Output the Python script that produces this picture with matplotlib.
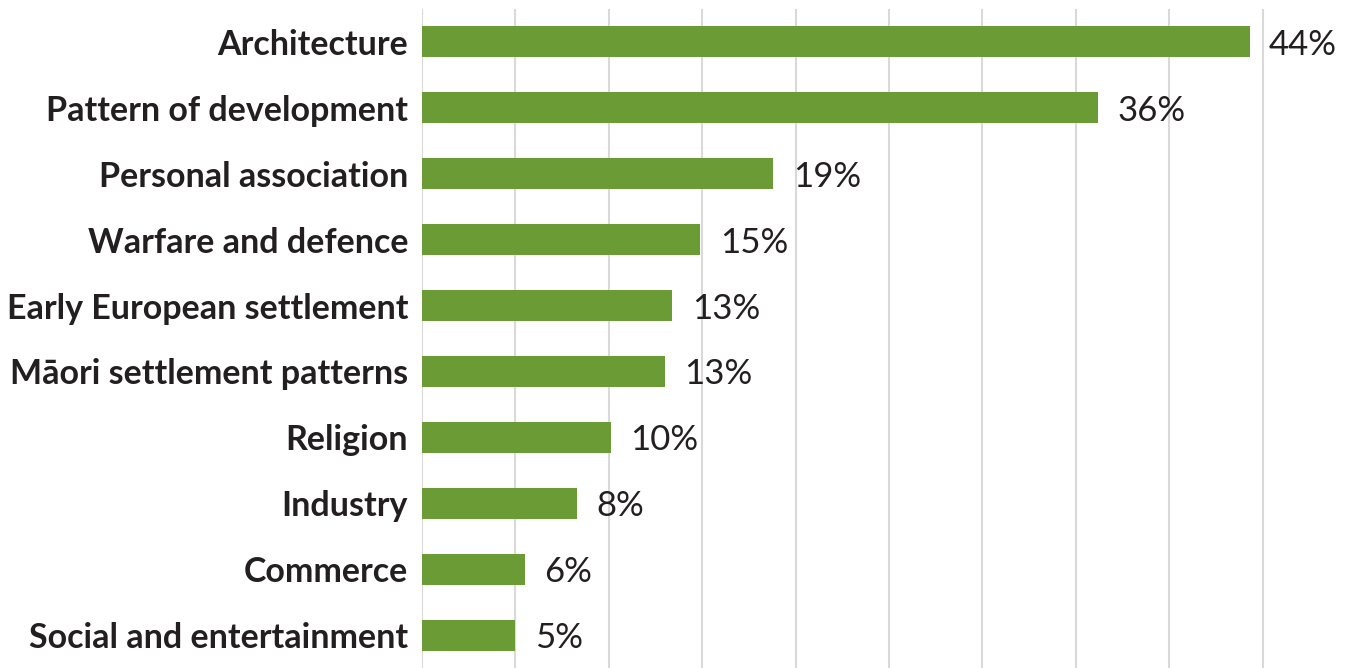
import matplotlib
matplotlib.use("Agg")
import matplotlib.pyplot as plt

categories = [
    "Architecture",
    "Pattern of development",
    "Personal association",
    "Warfare and defence",
    "Early European settlement",
    "Māori settlement patterns",
    "Religion",
    "Industry",
    "Commerce",
    "Social and entertainment",
]
values = [44.3, 36.2, 18.8, 14.9, 13.4, 13.0, 10.1, 8.3, 5.5, 5.0]
value_labels = ["44%", "36%", "19%", "15%", "13%", "13%", "10%", "8%", "6%", "5%"]

plt.rcParams['font.family'] = ['Lato', 'DejaVu Sans']

fig = plt.figure(figsize=(13.56, 6.68), dpi=100)
ax = fig.add_axes([422 / 1356, 0, 1 - 422 / 1356, 659 / 668])

ypos = list(range(len(categories)))
ax.barh(ypos, values, height=0.47, color="#6a9b34", zorder=2)
ax.set_ylim(len(categories) - 0.5, -0.5)
ax.set_xlim(0, 50)

ax.set_xticks(range(0, 50, 5))
ax.xaxis.grid(True, color="#d9d9d9", linewidth=1.5, zorder=0)
ax.tick_params(axis="x", length=0, labelbottom=False)
ax.tick_params(axis="y", length=0, pad=10)
ax.set_yticks(ypos)
ax.set_yticklabels(categories, fontsize=24.5, fontweight="bold", color="#231f20",
                   va="center_baseline")
for s in ax.spines.values():
    s.set_visible(False)

for y, v, lab in zip(ypos, values, value_labels):
    ax.annotate(lab, (v, y), xytext=(14, 0), textcoords="offset points",
                va="center_baseline", ha="left", fontsize=25, color="#231f20")

fig.savefig("out.png", dpi=100)
